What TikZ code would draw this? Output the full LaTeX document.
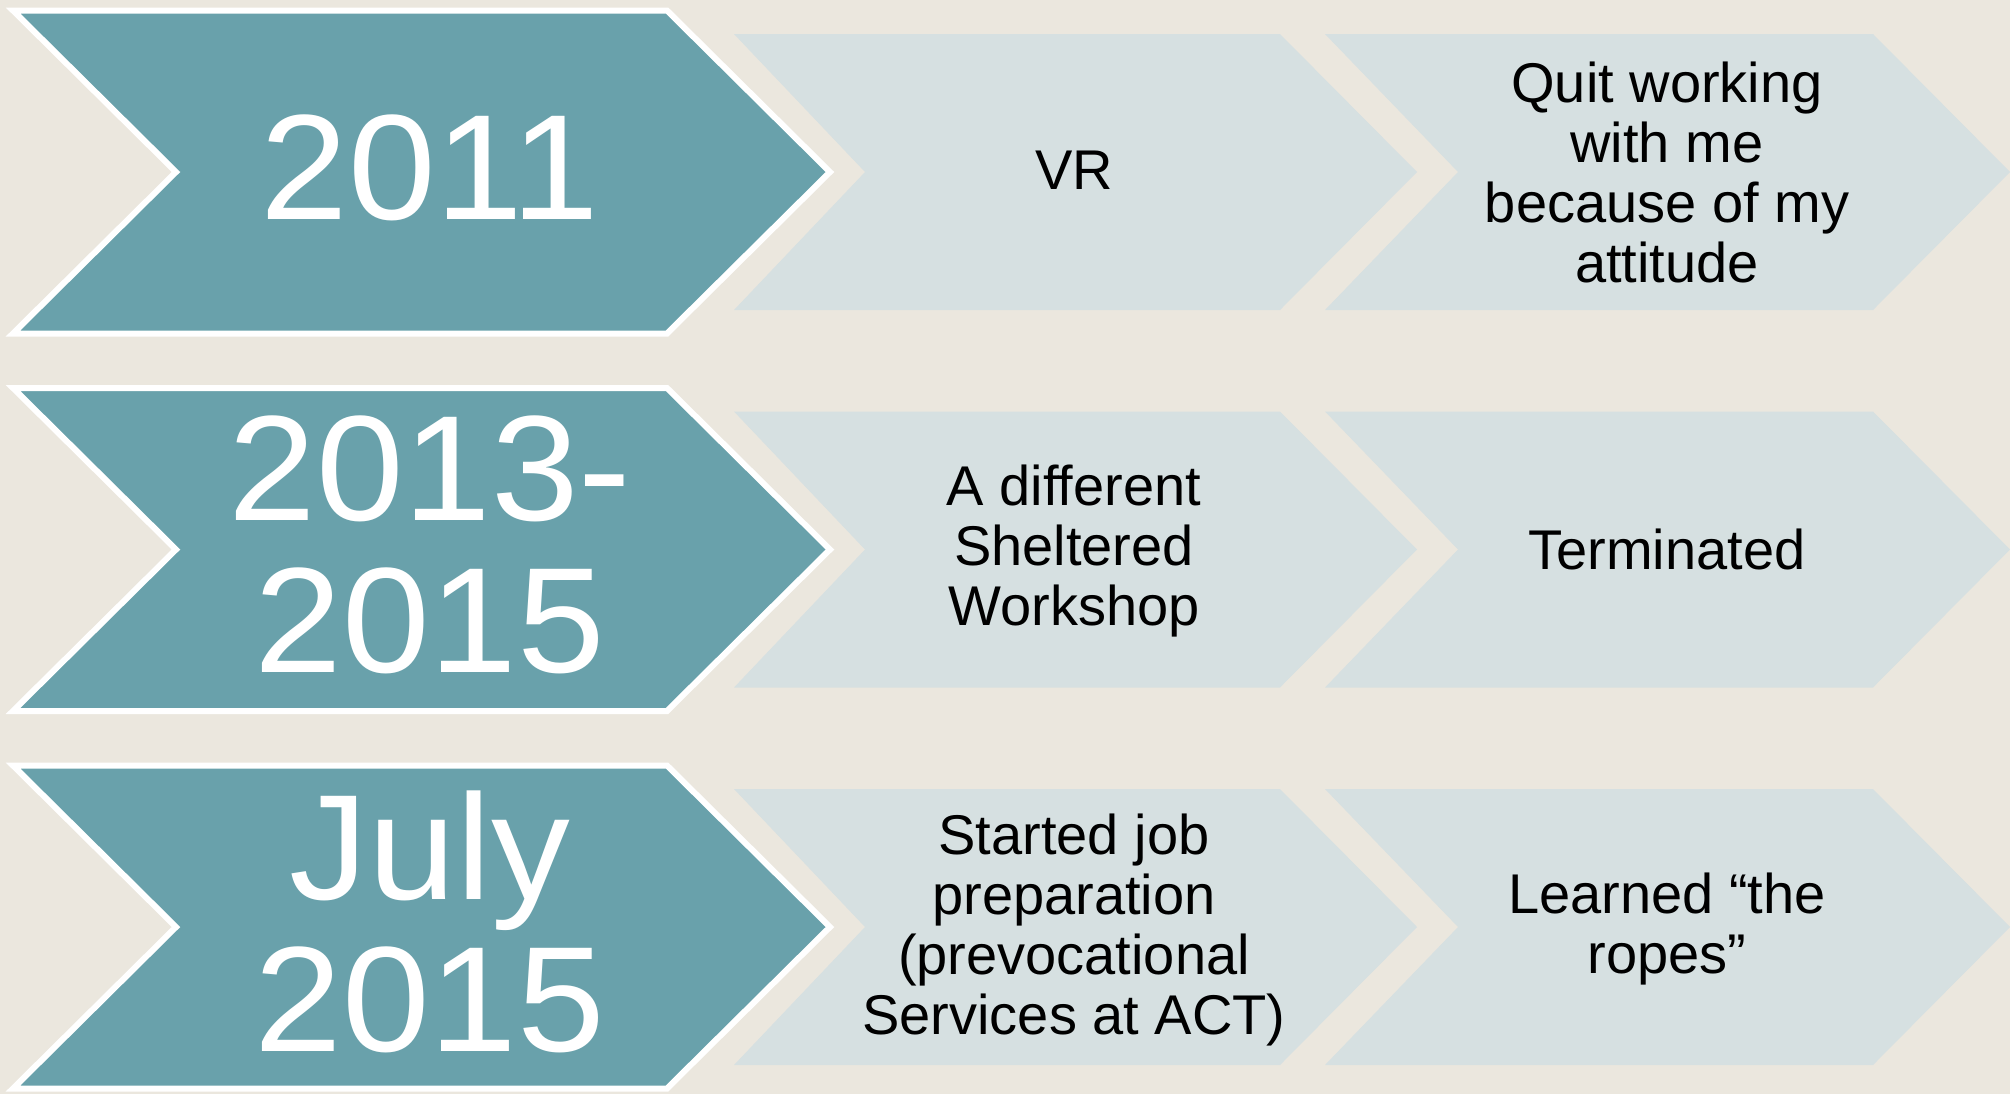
\documentclass[tikz,border=0pt]{standalone}
\usepackage{fontspec}
\setmainfont{Liberation Sans}
\definecolor{bgcol}{HTML}{EBE7DE}
\definecolor{yearteal}{HTML}{69A1AB}
\definecolor{stepcol}{HTML}{D6E0E1}
\newcommand{\wideyr}[1]{\scalebox{1.05}[1]{#1}}
\begin{document}
\begin{tikzpicture}[x=0.5pt,y=-0.5pt,
  yearbox/.style={fill=yearteal, draw=white, line width=3pt, miter limit=10},
  stepbox/.style={fill=stepcol},
  yeartext/.style={text=white, font=\fontsize{75}{76}\selectfont, align=center, inner sep=0pt},
  steptext/.style={text=black, font=\fontsize{28}{30}\selectfont, align=center, inner sep=0pt}]
\fill[bgcol] (0,0) rectangle (2010,1094);
\useasboundingbox (0,0) rectangle (2010,1094);
\foreach \cy/\n in {172/1,549.5/2,927/3}{
  % big year chevron
  \draw[yearbox] (13,\cy-161.5) -- (667,\cy-161.5) -- (830,\cy) -- (667,\cy+161.5)
     -- (13,\cy+161.5) -- (176,\cy) -- cycle;
  % step chevrons
  \fill[stepbox] (734,\cy-138) -- (1280,\cy-138) -- (1417,\cy) -- (1280,\cy+138)
     -- (734,\cy+138) -- (865,\cy) -- cycle;
  \fill[stepbox] (1325,\cy-138) -- (1873,\cy-138) -- (2010,\cy) -- (1873,\cy+138)
     -- (1325,\cy+138) -- (1458,\cy) -- cycle;
}
\node[yeartext] (y1) at (430,168) {\wideyr{2011}};
\node[yeartext] (y2) at (430,545) {\wideyr{2013-}\\\wideyr{2015}};
\node[yeartext] (y3) at (430,922) {\wideyr{July}\\\wideyr{2015}};
\node[steptext] (a1) at (1074,170) {VR};
\node[steptext] (b1) at (1667,172) {Quit working\\with me\\because of my\\attitude};
\node[steptext] (a2) at (1074,551) {A different\\Sheltered\\Workshop};
\node[steptext] (b2) at (1667,549) {Terminated};
\node[steptext] (a3) at (1074,930) {Started job\\preparation\\(prevocational\\Services at ACT)};
\node[steptext] (b3) at (1667,929) {Learned “the\\ropes”};
\end{tikzpicture}
\end{document}
